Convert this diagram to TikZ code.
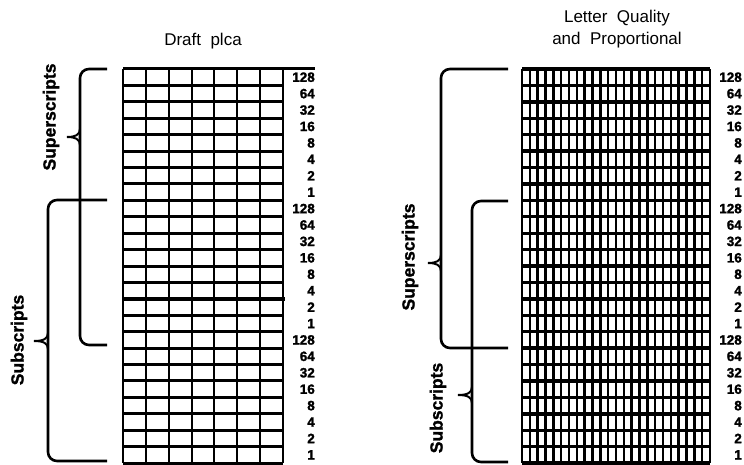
\documentclass[tikz,border=0pt]{standalone}
\usepackage{fontspec}
\setmainfont{Liberation Sans}
\newfontfamily\heavyfont[BoldFeatures={FakeBold=1.5}]{Liberation Sans}
\usetikzlibrary{positioning}

\tikzset{
  heading/.style={font=\fontsize{17}{22}\selectfont, align=center, inner sep=0pt},
  sidelabel/.style={font=\fontsize{17.5}{17.5}\heavyfont\bfseries, rotate=90, inner sep=0pt},
  bitlabel/.style={font=\fontsize{13.5}{13.5}\heavyfont\bfseries, anchor=east, inner sep=0pt},
  rowline/.style={line width=3pt},
  colline/.style={line width=2pt},
  brace/.style={line width=2.6pt, rounded corners=9pt},
  bracetip/.style={line width=2pt},
}

\begin{document}
\begin{tikzpicture}[x=1pt,y=-1pt]
\useasboundingbox (0,0) rectangle (744,465);

% headings
\node[heading] (draft) at (203,41) {Draft\ \ plca};
\node[heading] (letter) at (617,29) {Letter\ \ Quality\\and\ \ Proportional};

% draft grid, 7 columns
\foreach \i in {0,...,24}
  \draw[rowline] (123,69+\i*16.42) -- (283,69+\i*16.42);
\foreach \j in {0,...,7}
  \draw[colline] (123+\j*22.86,69) -- (123+\j*22.86,463);
\draw[rowline] (283,69) -- (315,69);
\draw[rowline,line width=3.6pt] (123,298.9) -- (285,298.9);

% letter quality grid, 24 columns
\foreach \i in {0,...,24}
  \draw[rowline,line width=3.4pt] (522,69+\i*16.42) -- (710,69+\i*16.42);
\foreach \j in {0,...,24}
  \draw[colline,line width=2.6pt] (522+\j*7.833,69) -- (522+\j*7.833,463);

% bit values
\foreach \v [count=\i from 0] in {128,64,32,16,8,4,2,1,128,64,32,16,8,4,2,1,128,64,32,16,8,4,2,1} {
  \node[bitlabel] (bitL\i) at (315,69+\i*16.42+8.21) {\v};
  \node[bitlabel] (bitR\i) at (742,69+\i*16.42+8.21) {\v};
}

% draft brackets
\draw[brace] (107,69) -- (80,69) -- (80,345) -- (107,345);
\draw[bracetip] (80,129) .. controls (80,135) and (75,137) .. (67,137) .. controls (75,137) and (80,139) .. (80,145);
\draw[brace] (107,200) -- (48,200) -- (48,461) -- (107,461);
\draw[bracetip] (48,333) .. controls (48,339) and (43,341) .. (34,341) .. controls (43,341) and (48,343) .. (48,349);
\node[sidelabel] (supL) at (51,117) {Superscripts};
\node[sidelabel] (subL) at (19,340) {Subscripts};

% letter quality brackets
\draw[brace] (508,69) -- (441,69) -- (441,348) -- (508,348);
\draw[bracetip] (441,255) .. controls (441,261) and (436,263) .. (428,263) .. controls (436,263) and (441,265) .. (441,271);
\draw[brace] (508,201) -- (472,201) -- (472,462) -- (508,462);
\draw[bracetip] (472,387) .. controls (472,393) and (467,395) .. (458,395) .. controls (467,395) and (472,397) .. (472,403);
\node[sidelabel] (supR) at (410,257) {Superscripts};
\node[sidelabel] (subR) at (438,408) {Subscripts};
\end{tikzpicture}
\end{document}
